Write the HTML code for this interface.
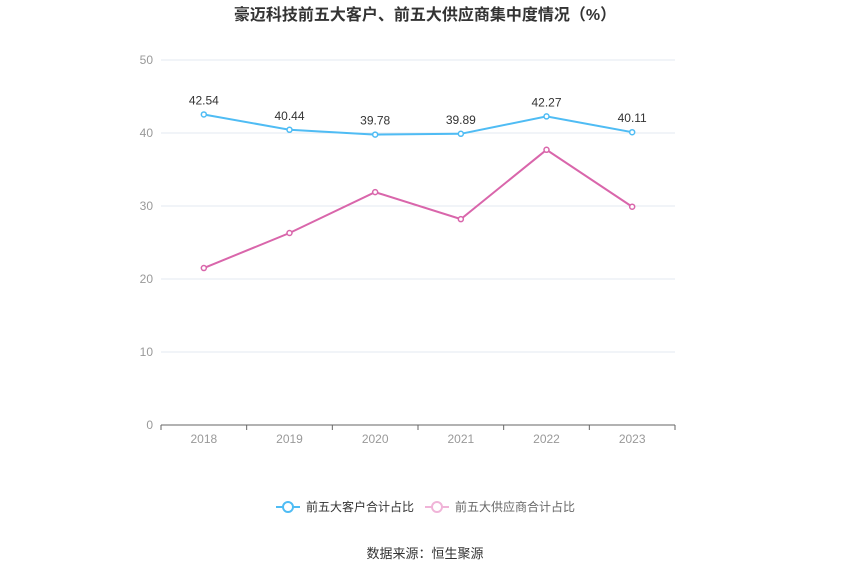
<!DOCTYPE html>
<html><head><meta charset="utf-8">
<style>
body{margin:0;background:#fff;}
svg{display:block;font-family:"Liberation Sans","Noto Sans CJK SC",sans-serif;}
</style></head>
<body>
<svg id="chart" width="850" height="574" viewBox="0 0 850 574">
<text x="425" y="20" text-anchor="middle" font-size="16" font-weight="bold" fill="#333">豪迈科技前五大客户、前五大供应商集中度情况（%）</text>
<g id="grid"></g>
<g id="axes"></g>
<g id="series"></g>
<g>
<g>
<line x1="276" y1="507" x2="300" y2="507" stroke="#4fbcf4" stroke-width="2"/>
<circle cx="288" cy="507" r="5" fill="#fff" stroke="#4fbcf4" stroke-width="2"/>
<text x="306" y="511" font-size="12" fill="#333">前五大客户合计占比</text>
</g>
<g>
<line x1="425" y1="507" x2="449" y2="507" stroke="#f0b4d8" stroke-width="2"/>
<circle cx="437" cy="507" r="5" fill="#fff" stroke="#f0b4d8" stroke-width="2"/>
<text x="455" y="511" font-size="12" fill="#666">前五大供应商合计占比</text>
</g>
</g>
<text x="425" y="558" text-anchor="middle" font-size="13" fill="#333">数据来源：恒生聚源</text>
</svg>
<script>
const categories=["2018","2019","2020","2021","2022","2023"];
const customerValues=[42.54,40.44,39.78,39.89,42.27,40.11];
const supplierValues=[21.5,26.3,31.9,28.2,37.7,29.9];
const yTicks=[0,10,20,30,40,50];
const NS="http://www.w3.org/2000/svg";
const plotLeft=161,plotRight=675,plotTop=60,plotBottom=425,yMax=50;
const band=(plotRight-plotLeft)/categories.length;
function xPos(i){return plotLeft+band*(i+0.5);}
function yPos(v){return plotBottom-(v/yMax)*(plotBottom-plotTop);}
function mk(tag,attrs,parent,text){const e=document.createElementNS(NS,tag);for(const k in attrs)e.setAttribute(k,attrs[k]);if(text!==undefined)e.textContent=text;parent.appendChild(e);return e;}
const gridG=document.getElementById('grid'),axesG=document.getElementById('axes'),seriesG=document.getElementById('series');
yTicks.forEach(t=>{
 if(t>0){const g=mk('line',{x1:plotLeft,x2:plotRight,y1:yPos(t),y2:yPos(t),stroke:'#e3e8f0','stroke-width':1},gridG);
 
 }
 const l=mk('text',{x:153,y:yPos(t)+4,'text-anchor':'end','font-size':12,fill:'#999'},axesG,String(t));
 
 
});
const ax=mk('line',{x1:plotLeft,x2:plotRight,y1:plotBottom,y2:plotBottom,stroke:'#666','stroke-width':1},axesG);


categories.forEach((c,i)=>{
 const tk=mk('line',{x1:plotLeft+band*i,x2:plotLeft+band*i,y1:plotBottom,y2:plotBottom+5,stroke:'#666'},axesG);
 
 
 const l=mk('text',{x:xPos(i),y:plotBottom+18,'text-anchor':'middle','font-size':12,fill:'#999'},axesG,c);
 
 
});
const tk2=mk('line',{x1:plotRight,x2:plotRight,y1:plotBottom,y2:plotBottom+5,stroke:'#666'},axesG);


function drawSeries(vals,color,name,labels){
 const p=mk('polyline',{points:vals.map((v,i)=>xPos(i)+','+yPos(v)).join(' '),fill:'none',stroke:color,'stroke-width':2},seriesG);
 
 
 vals.forEach((v,i)=>{
  const c=mk('circle',{cx:xPos(i),cy:yPos(v),r:2.5,fill:'#fff',stroke:color,'stroke-width':1.5},seriesG);
  
  
  if(labels){const t=mk('text',{x:xPos(i),y:yPos(v)-10,'text-anchor':'middle','font-size':12,fill:'#333'},seriesG,v.toFixed(2));
  
  }
 });
}
drawSeries(supplierValues,'#d966ab','suppliers',false);
drawSeries(customerValues,'#4fbcf4','customers',true);
</script>
</body></html>
